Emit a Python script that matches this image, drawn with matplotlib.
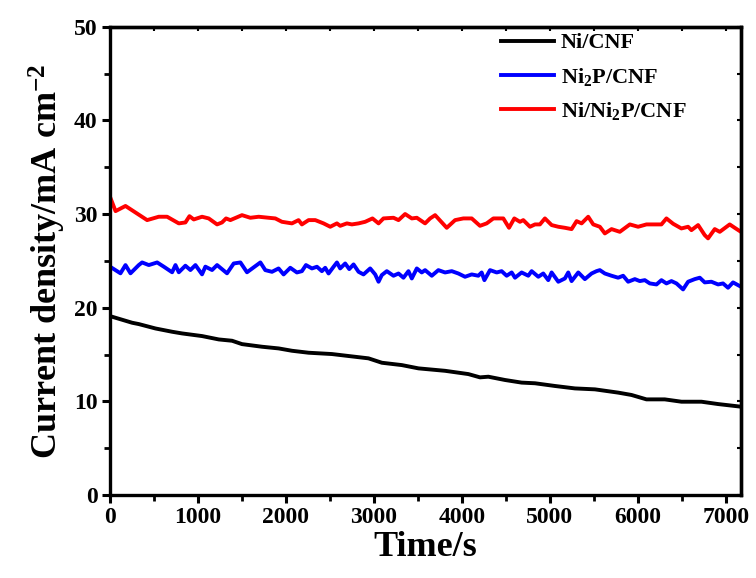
import matplotlib
matplotlib.use("Agg")
import matplotlib.pyplot as plt
from matplotlib.ticker import MultipleLocator

plt.rcParams['font.family'] = ['Liberation Serif', 'DejaVu Serif']
plt.rcParams['font.weight'] = 'bold'
plt.rcParams['axes.labelweight'] = 'bold'
plt.rcParams['mathtext.fontset'] = 'custom'
plt.rcParams['mathtext.rm'] = 'Liberation Serif:bold'
plt.rcParams['mathtext.it'] = 'Liberation Serif:bold'
plt.rcParams['mathtext.bf'] = 'Liberation Serif:bold'

# Ni/CNF
t_ni = [0, 252, 327, 517, 706, 820, 1046, 1236, 1387, 1500, 1727, 1917, 2068,
        2257, 2522, 2711, 2938, 3090, 3317, 3506, 3808, 4073, 4205, 4300, 4489,
        4678, 4830, 5057, 5284, 5511, 5776, 5927, 6097, 6305, 6495, 6722, 6911, 7170]
j_ni = [19.1, 18.39, 18.25, 17.78, 17.43, 17.25, 16.97, 16.61, 16.47, 16.11, 15.83,
        15.65, 15.4, 15.19, 15.05, 14.84, 14.59, 14.12, 13.87, 13.52, 13.26, 12.91,
        12.56, 12.63, 12.28, 12.0, 11.93, 11.64, 11.38, 11.28, 10.93, 10.68, 10.21,
        10.21, 9.96, 9.96, 9.71, 9.43]

# Ni2P/CNF
t_p = [0, 119, 176, 233, 327, 365, 441, 536, 611, 706, 744, 782, 857, 914, 971,
       1046, 1084, 1160, 1217, 1330, 1406, 1482, 1557, 1709, 1765, 1841, 1916, 1973,
       2049, 2124, 2181, 2227, 2295, 2352, 2408, 2446, 2484, 2541, 2579, 2616, 2673,
       2719, 2768, 2825, 2881, 2957, 3014, 3052, 3089, 3146, 3222, 3279, 3335, 3392,
       3430, 3487, 3543, 3581, 3657, 3732, 3808, 3884, 3959, 4035, 4111, 4186, 4224,
       4255, 4319, 4395, 4451, 4508, 4565, 4603, 4678, 4754, 4792, 4868, 4924, 4981,
       5019, 5095, 5170, 5208, 5246, 5322, 5397, 5473, 5529, 5567, 5624, 5700, 5775,
       5832, 5889, 5965, 6021, 6078, 6135, 6211, 6267, 6324, 6381, 6438, 6513, 6570,
       6646, 6703, 6759, 6835, 6911, 6967, 7024, 7081, 7170]
j_p = [24.38, 23.67, 24.55, 23.67, 24.55, 24.83, 24.55, 24.83, 24.38, 23.78, 24.55,
       23.78, 24.48, 24.02, 24.55, 23.56, 24.38, 24.02, 24.55, 23.67, 24.72, 24.83,
       23.78, 24.83, 24.01, 23.83, 24.19, 23.55, 24.26, 23.76, 23.9, 24.55, 24.19,
       24.37, 23.9, 24.26, 23.65, 24.37, 24.83, 24.19, 24.72, 24.12, 24.62, 23.83,
       23.55, 24.19, 23.55, 22.77, 23.48, 23.9, 23.41, 23.65, 23.2, 23.9, 23.12,
       24.19, 23.76, 24.01, 23.41, 24.01, 23.76, 23.9, 23.65, 23.3, 23.55, 23.41,
       23.76, 22.94, 24.01, 23.76, 23.9, 23.41, 23.76, 23.2, 23.76, 23.41, 23.9,
       23.3, 23.65, 22.94, 23.76, 22.77, 23.12, 23.76, 22.84, 23.76, 23.05, 23.65,
       23.9, 24.01, 23.65, 23.41, 23.2, 23.41, 22.77, 23.05, 22.84, 22.94, 22.59,
       22.48, 22.94, 22.59, 22.84, 22.59, 21.95, 22.77, 23.05, 23.2, 22.7, 22.77,
       22.48, 22.59, 22.13, 22.7, 22.24]

# Ni/Ni2P/CNF
t_np = [0, 63, 176, 422, 554, 649, 782, 857, 903, 952, 1046, 1122, 1217, 1273, 1319,
        1368, 1500, 1595, 1690, 1803, 1879, 1954, 2068, 2143, 2181, 2257, 2333, 2427,
        2503, 2579, 2616, 2692, 2749, 2825, 2900, 2983, 3052, 3108, 3222, 3279, 3354,
        3430, 3487, 3581, 3638, 3695, 3827, 3922, 4016, 4111, 4205, 4281, 4357, 4470,
        4535, 4595, 4659, 4697, 4773, 4830, 4886, 4943, 5019, 5095, 5170, 5246, 5303,
        5360, 5435, 5492, 5567, 5624, 5700, 5794, 5908, 6002, 6097, 6267, 6324, 6400,
        6494, 6570, 6608, 6684, 6759, 6797, 6873, 6930, 7043, 7100, 7170]
j_np = [31.84, 30.31, 30.86, 29.35, 29.71, 29.71, 29.0, 29.1, 29.77, 29.42, 29.71,
        29.53, 28.89, 29.1, 29.53, 29.35, 29.88, 29.6, 29.71, 29.6, 29.53, 29.17,
        29.0, 29.35, 28.89, 29.35, 29.35, 29.0, 28.64, 29.0, 28.74, 29.0, 28.89,
        29.0, 29.17, 29.53, 29.0, 29.53, 29.6, 29.35, 30.0, 29.53, 29.6, 29.0, 29.53,
        29.88, 28.53, 29.35, 29.53, 29.53, 28.74, 29.0, 29.53, 29.53, 28.53, 29.53,
        29.17, 29.35, 28.64, 28.89, 28.89, 29.53, 28.82, 28.64, 28.53, 28.39, 29.24,
        29.0, 29.71, 28.89, 28.64, 27.93, 28.39, 28.1, 28.89, 28.64, 28.89, 28.89,
        29.53, 28.96, 28.46, 28.64, 28.28, 28.82, 27.75, 27.4, 28.39, 28.1, 28.89,
        28.53, 28.1]

fig = plt.figure(figsize=(7.56, 5.78), dpi=100)
ax = fig.add_axes([0.1455, 0.1436, 0.8345, 0.8102])

ax.plot(t_ni, j_ni, color='black', lw=2.8, label='Ni/CNF')
ax.plot(t_p, j_p, color='blue', lw=2.8, label='Ni$_{2}$P/CNF')
ax.plot(t_np, j_np, color='red', lw=2.8, label='Ni/Ni$_{2}$P/CNF')

ax.set_xlim(0, 7170)
ax.set_ylim(0, 50)
ax.xaxis.set_major_locator(MultipleLocator(1000))
ax.xaxis.set_minor_locator(MultipleLocator(500))
ax.yaxis.set_major_locator(MultipleLocator(10))
ax.yaxis.set_minor_locator(MultipleLocator(5))
ax.tick_params(which='major', direction='out', length=6, width=2.2, labelsize=17, pad=3)
ax.tick_params(which='minor', direction='out', length=4, width=2.0)
for s in ax.spines.values():
    s.set_linewidth(2.4)

# mirrored inward ticks on top and right
top = ax.secondary_xaxis('top')
top.xaxis.set_major_locator(MultipleLocator(1000))
top.xaxis.set_minor_locator(MultipleLocator(500))
top.tick_params(which='both', direction='in', length=3, width=1.5, labeltop=False)
right = ax.secondary_yaxis('right')
right.yaxis.set_major_locator(MultipleLocator(10))
right.yaxis.set_minor_locator(MultipleLocator(5))
right.tick_params(which='both', direction='in', length=3, width=1.5, labelright=False)
for sec in (top, right):
    for s in sec.spines.values():
        s.set_linewidth(2.4)

ax.set_xlabel('Time/s', fontsize=26, labelpad=2)
ax.set_ylabel('Current density/mA cm$^{-2}$', fontsize=26, labelpad=4)

ax.legend(loc='upper left', bbox_to_anchor=(0.595, 1.02), frameon=False, fontsize=16,
          handlelength=2.4, handletextpad=0.3, labelspacing=0.55, borderaxespad=0.3)

fig.savefig('out.png', dpi=100)
